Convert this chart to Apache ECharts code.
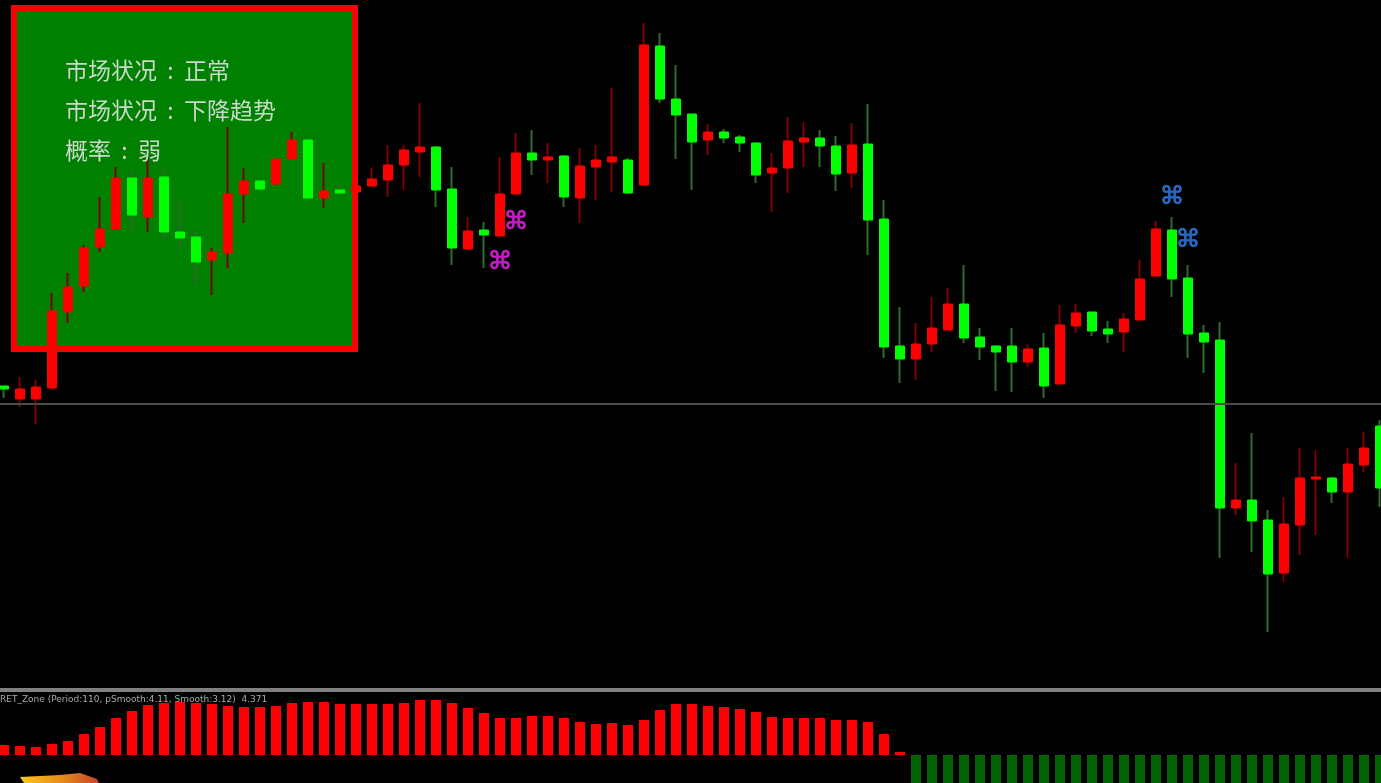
<!DOCTYPE html>
<html>
<head>
<meta charset="utf-8">
<title>K线</title>
<script src="https://cdn.jsdelivr.net/npm/echarts@6/dist/echarts.min.js"></script>
<style>
    html, body { margin: 0; padding: 0; background: #000; overflow: hidden; }
    #myChart { width: 1381px; height: 783px; filter: blur(0.6px); }
</style>
</head>
<body>
<div id="myChart"></div>
<script>
    // price scale is read straight off the picture, larger number = lower on screen
    const opens = [386,399,399,388,312,286,247,229,178,217,177,232,237,260,253,194,181,184,159,140,198,190,192,186,180,165,152,147,189,249,230,236,194,153,160,156,198,167,162,160,185,46,99,114,140,132,137,143,173,168,142,138,146,173,144,219,346,359,344,330,304,337,346,346,362,348,384,326,312,329,332,320,276,230,278,333,340,508,500,520,573,525,479,478,492,465,426];
    const closes = [389,389,387,311,287,248,229,178,215,178,232,238,262,252,194,181,189,159,140,198,191,193,186,179,165,150,147,190,248,231,235,194,153,160,157,197,166,160,157,193,45,99,115,142,132,138,143,175,168,141,138,146,174,145,220,347,359,344,328,304,338,347,352,362,349,386,325,313,331,334,319,279,229,279,334,342,508,500,521,574,524,478,477,492,464,448,488];
    const highs = [386,377,380,293,273,245,197,167,173,157,168,200,230,248,127,168,180,159,132,138,163,183,186,168,145,145,103,146,167,217,222,157,133,130,143,155,148,145,88,158,23,33,65,114,124,129,135,142,153,117,122,130,136,123,104,200,307,323,297,288,265,328,345,328,345,333,305,304,312,321,313,260,221,217,265,325,322,463,433,510,497,448,450,477,448,432,420];
    const lows = [398,407,424,390,323,292,252,230,232,232,238,248,285,295,268,223,190,185,159,199,208,194,192,187,197,190,177,207,265,250,268,236,194,175,183,207,223,200,192,194,185,103,159,190,155,143,152,183,212,193,167,167,191,188,255,358,383,380,352,330,343,360,391,392,367,398,384,333,336,343,352,320,277,297,358,373,558,515,552,632,582,555,535,503,558,472,507];
    // RET_Zone histogram, positive goes up from the zero line
    const zoneUp = [10,9,8,11,14,21,28,37,44,50,52,53,52,51,49,48,48,49,52,53,53,51,51,51,51,52,55,55,52,47,42,37,37,39,39,37,33,31,32,30,35,45,51,51,49,48,46,43,38,37,37,37,35,35,33,21,3];
    const zoneDown = [28,28,28,28,28,28,28,28,28,28,28,28,28,28,28,28,28,28,28,28,28,28,28,28,28,28,28,28,28,28];
    const priceLine = 404;
    const buyMarks = [[32, 222], [31, 262]];
    const sellMarks = [[73, 197], [74, 240]];

    const categories = opens.map((v, i) => String(i + 1));
    const zoneData = zoneUp.concat(zoneDown.map(v => -v));
    const wickData = opens.map((v, i) => [v, closes[i], highs[i], lows[i]]);
    const bodyData = opens.map((v, i) => [v, closes[i], Math.min(v, closes[i]), Math.max(v, closes[i])]);

    const myChart = echarts.init(document.getElementById('myChart'), null, { renderer: 'canvas' });

    function panelText(text, y) {
        return {
            type: 'text',
            left: 65,
            top: y,
            z: 20,
            style: {
                text: text,
                fill: '#c9d8c9',
                font: '23px "Noto Sans CJK SC"'
            }
        };
    }

    function markSeries(name, marks, color) {
        return {
            name: name, type: 'scatter', xAxisIndex: 0, yAxisIndex: 0, z: 5, symbolSize: 0,
            label: {
                show: true, position: 'inside', formatter: '⌘', color: color,
                fontSize: 25, fontFamily: 'DejaVu Sans',
                textBorderColor: color, textBorderWidth: 0.7
            },
            data: marks
        };
    }

    myChart.setOption({
        backgroundColor: '#000',
        animation: false,
        grid: [
            { left: -4, top: 0, width: 1392, height: 690, outerBoundsMode: 'none' },
            { left: -4, top: 692, width: 1392, height: 91, outerBoundsMode: 'none' }
        ],
        xAxis: [
            {
                type: 'category', data: categories, gridIndex: 0,
                axisLine: { show: true, onZero: false, lineStyle: { color: '#808080', width: 4 } },
                axisTick: { show: false }, axisLabel: { show: false }
            },
            {
                type: 'category', data: categories, gridIndex: 1,
                axisLine: { show: false }, axisTick: { show: false }, axisLabel: { show: false }
            },
            // second axis on the price grid, keeps wick and body candles from being dodged
            { type: 'category', data: categories, gridIndex: 0, show: false }
        ],
        yAxis: [
            { type: 'value', gridIndex: 0, inverse: true, min: 0, max: 690, show: false },
            { type: 'value', gridIndex: 1, min: -28, max: 63, show: false }
        ],
        graphic: [
            {
                type: 'rect',
                z: 0,
                shape: { x: 14, y: 8, width: 341, height: 341 },
                style: { fill: '#008000', stroke: '#ff0000', lineWidth: 6 }
            },
            panelText('市场状况  :  正常', 59),
            panelText('市场状况  :  下降趋势', 99),
            panelText('概率  :  弱', 139),
            {
                type: 'text', left: 0, top: 695, z: 20,
                style: {
                    text: 'RET_Zone (Period:110, pSmooth:4.11, Smooth:3.12)  4.371',
                    fill: '#a8a8a8',
                    font: '9px "DejaVu Sans"'
                }
            },
            {
                // orange logo cut off by the bottom edge
                type: 'polygon', z: 20,
                shape: { points: [[20, 777], [60, 775], [80, 773], [97, 779], [99, 783], [24, 783]] },
                style: {
                    fill: {
                        type: 'linear', x: 0, y: 0, x2: 1, y2: 0,
                        colorStops: [{ offset: 0, color: '#f8c820' }, { offset: 0.5, color: '#e89018' }, { offset: 1, color: '#c84030' }]
                    }
                }
            }
        ],
        series: [
            {
                name: 'wick', type: 'candlestick', xAxisIndex: 0, yAxisIndex: 0, z: 2,
                barWidth: 1,
                // axis is inverse, so a rising bar has the smaller close
                itemStyle: { color: '#2f6b2f', color0: '#7a0000', borderColor: '#2f6b2f', borderColor0: '#7a0000', borderWidth: 2 },
                data: wickData,
                markLine: {
                    silent: true, symbol: 'none', label: { show: false },
                    lineStyle: { color: '#4a4a4a', width: 2, type: 'solid' },
                    data: [{ yAxis: priceLine }]
                }
            },
            {
                name: 'body', type: 'candlestick', xAxisIndex: 2, yAxisIndex: 0, z: 3,
                barWidth: 10,
                itemStyle: { color: '#00ff00', color0: '#ff0000', borderColor: '#00ff00', borderColor0: '#ff0000', borderWidth: 1 },
                data: bodyData
            },
            markSeries('buy', buyMarks, '#f020f0'),
            markSeries('sell', sellMarks, '#2f80e8'),
            {
                name: 'zone', type: 'bar', xAxisIndex: 1, yAxisIndex: 1, barWidth: 10,
                itemStyle: { color: p => p.value > 0 ? '#ff0000' : '#006400' },
                data: zoneData
            }
        ]
    });
</script>
</body>
</html>
